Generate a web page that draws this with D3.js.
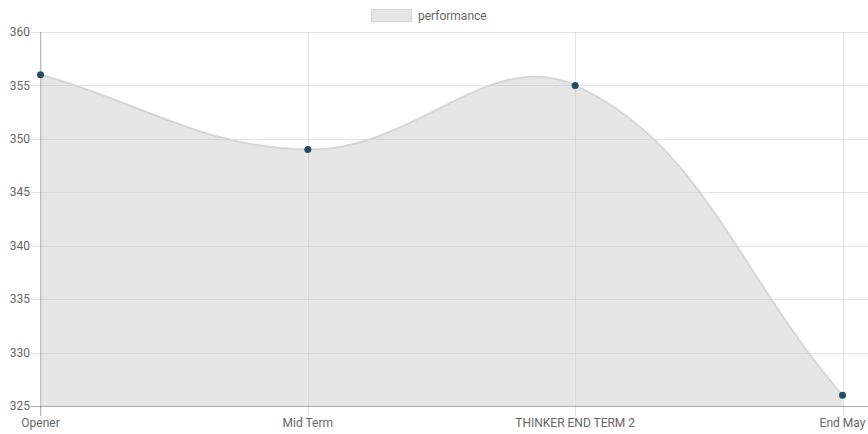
<!DOCTYPE html>
<html><head><meta charset="utf-8">
<script src="https://cdn.jsdelivr.net/npm/d3@7"></script>
<style>body{margin:0;background:#fff;}svg{display:block;font-family:Roboto,"Helvetica Neue",Arial,sans-serif;}</style>
</head><body><svg id="c" width="868" height="434"></svg>
<script>
const categories = ["Opener", "Mid Term", "THINKER END TERM 2", "End May"];
const performance = [356, 349, 355, 326];
const yTicks = [325, 330, 335, 340, 345, 350, 355, 360];
const seriesName = "performance";

(function () {
const areaL = 40.5, areaR = 868, areaT = 32, areaB = 406;
const svg = d3.select("#c");
const x = d3.scalePoint().domain(categories).range([40.5, 842.5]);
const y = d3.scaleLinear().domain([325, 360]).range([areaB, areaT]);
const grid = "rgba(0,0,0,0.1)";
const txt = "#666";

svg.append("g").selectAll("line").data(yTicks).join("line")
  .attr("x1", areaL - 10).attr("x2", areaR)
  .attr("y1", d => Math.round(y(d)) + 0.5).attr("y2", d => Math.round(y(d)) + 0.5)
  .attr("stroke", grid);
svg.append("g").selectAll("line").data(categories).join("line")
  .attr("x1", d => Math.round(x(d)) + 0.5).attr("x2", d => Math.round(x(d)) + 0.5)
  .attr("y1", areaT).attr("y2", areaB + 10)
  .attr("stroke", grid);
svg.append("line").attr("x1", areaL).attr("x2", areaL).attr("y1", areaT).attr("y2", areaB + 10).attr("stroke", "rgba(0,0,0,0.25)");
svg.append("line").attr("x1", areaL - 10).attr("x2", areaR).attr("y1", areaB + 0.5).attr("y2", areaB + 0.5).attr("stroke", "rgba(0,0,0,0.25)");

svg.append("g").selectAll("text").data(yTicks).join("text")
  .attr("x", 30).attr("y", d => y(d)).attr("dy", "0.35em")
  .attr("text-anchor", "end").attr("fill", txt).attr("font-size", 12).text(d => d);
svg.append("g").selectAll("text").data(categories).join("text")
  .attr("x", d => x(d)).attr("y", 427)
  .attr("text-anchor", "middle").attr("fill", txt).attr("font-size", 12).text(d => d);

const pts = categories.map((c, i) => ({x: x(c), y: y(performance[i])}));
const t = 0.4;
pts.forEach((p, i) => {
  const prev = pts[i - 1] || p, next = pts[i + 1] || p;
  const d01 = Math.hypot(p.x - prev.x, p.y - prev.y);
  const d12 = Math.hypot(next.x - p.x, next.y - p.y);
  let s01 = d01 / (d01 + d12), s12 = d12 / (d01 + d12);
  if (isNaN(s01)) s01 = 0; if (isNaN(s12)) s12 = 0;
  const fa = t * s01, fb = t * s12;
  p.cp1 = {x: p.x - fa * (next.x - prev.x), y: p.y - fa * (next.y - prev.y)};
  p.cp2 = {x: p.x + fb * (next.x - prev.x), y: p.y + fb * (next.y - prev.y)};
  const cap = q => { q.x = Math.max(areaL, Math.min(areaR, q.x)); q.y = Math.max(areaT, Math.min(areaB, q.y)); };
  cap(p.cp1); cap(p.cp2);
});
const path = d3.path();
path.moveTo(pts[0].x, pts[0].y);
for (let i = 1; i < pts.length; i++) {
  const a = pts[i - 1], b = pts[i];
  path.bezierCurveTo(a.cp2.x, a.cp2.y, b.cp1.x, b.cp1.y, b.x, b.y);
}
const lineD = path.toString();
const areaD = lineD + `L${pts[pts.length-1].x},${areaB}L${pts[0].x},${areaB}Z`;
svg.append("path").attr("d", areaD).attr("fill", "rgba(200,200,200,0.45)");
svg.append("path").attr("d", lineD).attr("fill", "none").attr("stroke", "#d6d6d6").attr("stroke-width", 2);
svg.append("g").selectAll("circle").data(pts).join("circle")
  .attr("cx", d => d.x).attr("cy", d => d.y).attr("r", 3.5).attr("fill", "#234b63");

const lg = svg.append("g");
lg.append("rect").attr("x", 371.5).attr("y", 9.5).attr("width", 40).attr("height", 12)
  .attr("fill", "rgba(200,200,200,0.45)").attr("stroke", "#d6d6d6").attr("stroke-width", 1);
lg.append("text").attr("x", 418).attr("y", 16).attr("dy", "0.35em").attr("fill", txt).attr("font-size", 12).text(seriesName);
})();
</script></body></html>
